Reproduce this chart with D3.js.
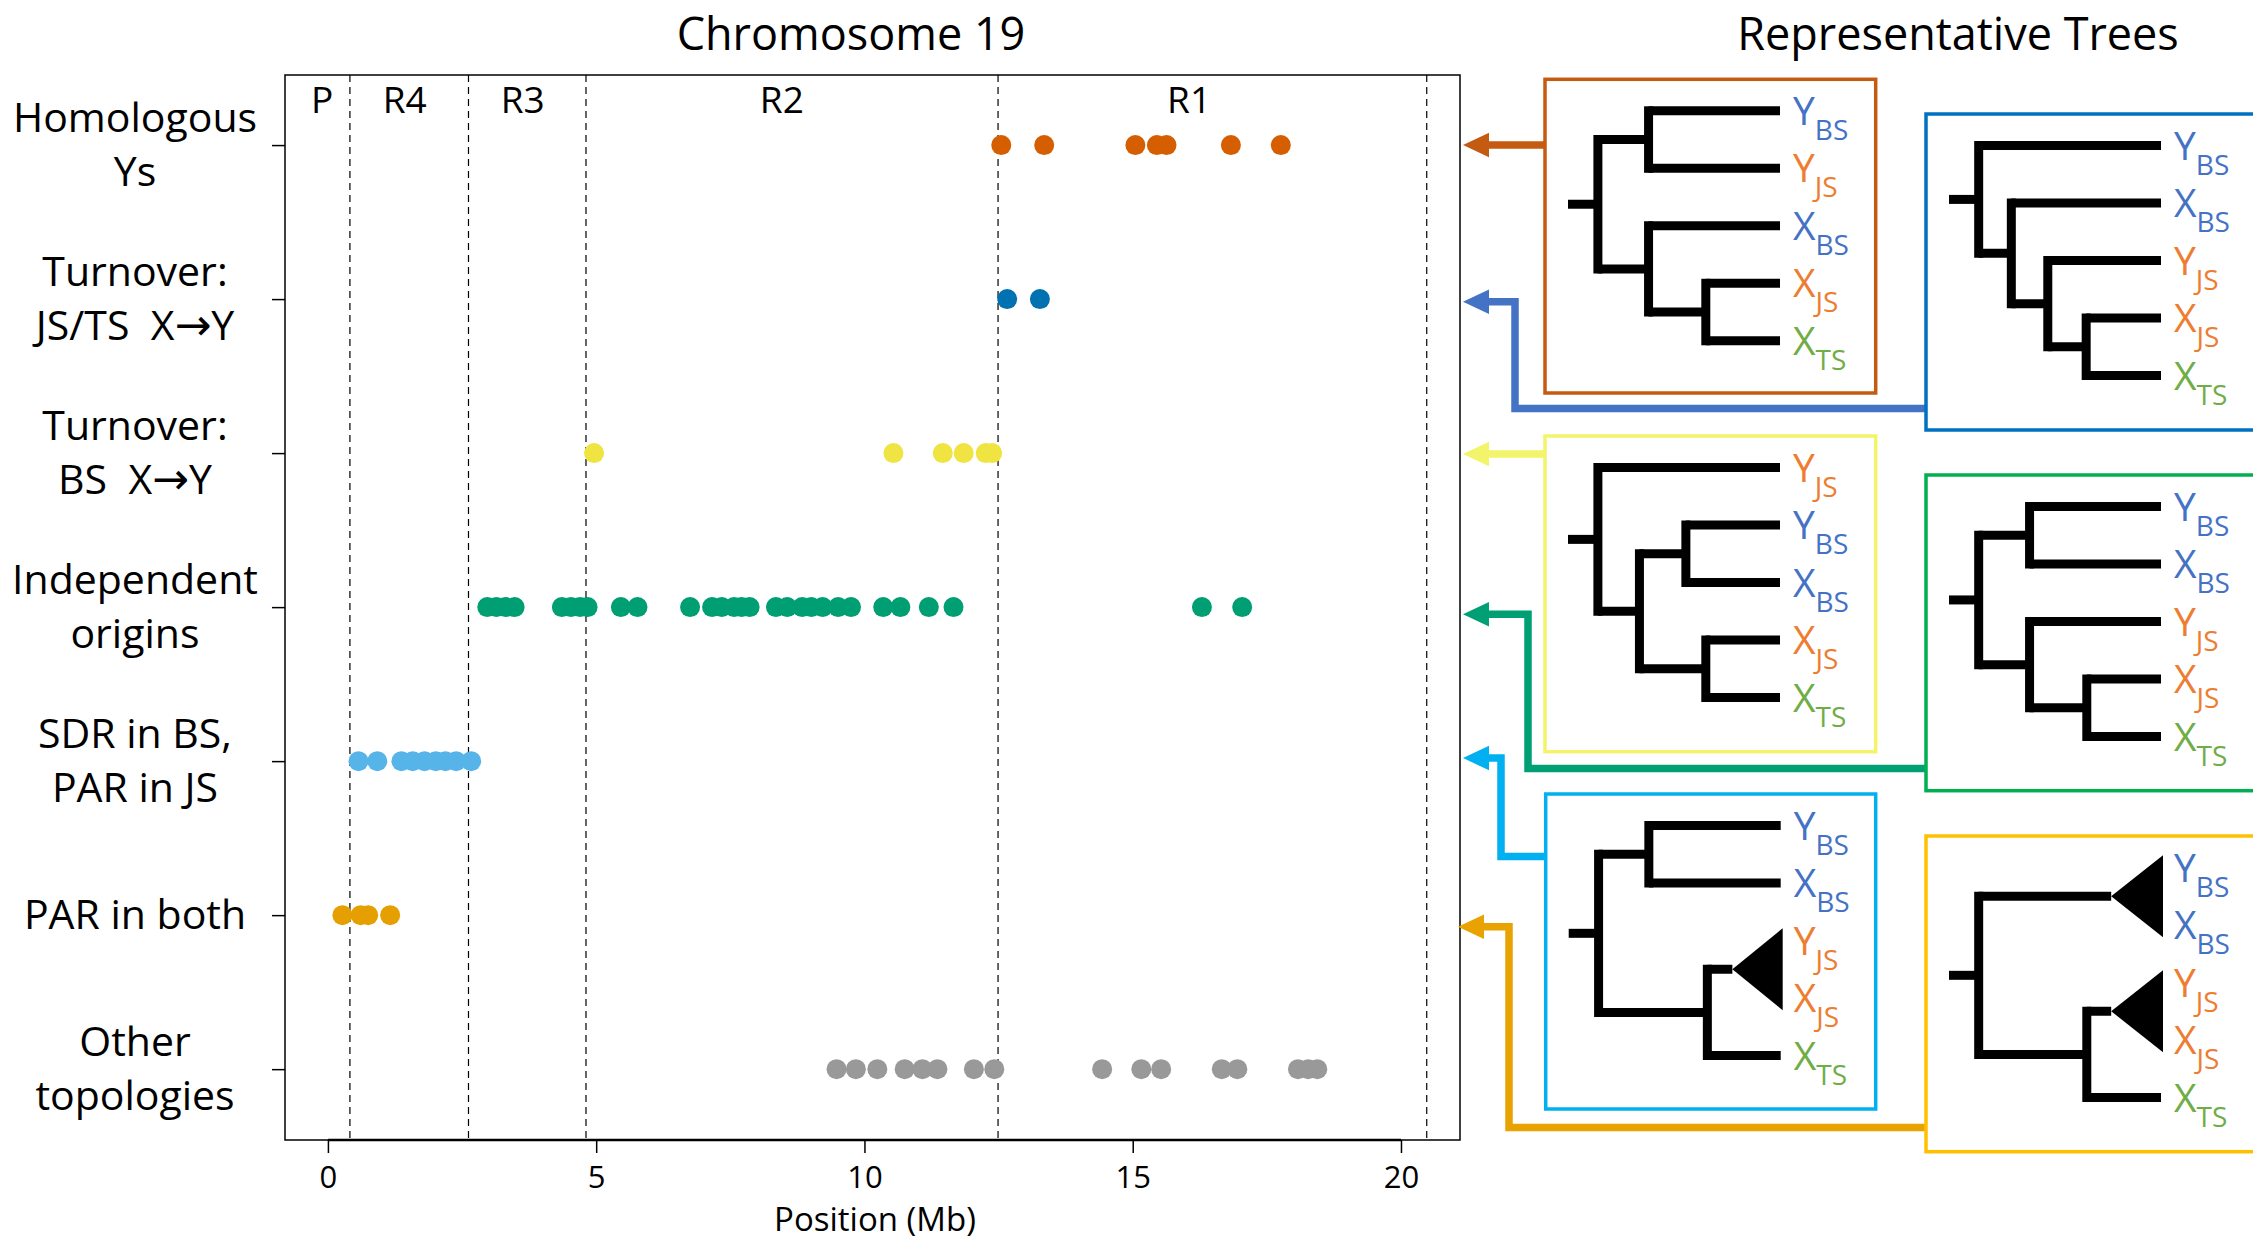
<!DOCTYPE html>
<html><head><meta charset="utf-8">
<script src="https://cdn.jsdelivr.net/npm/d3@7/dist/d3.min.js"></script>
<style>body{margin:0;background:#fff}text{font-family:"Open Sans",sans-serif;white-space:pre}</style>
</head><body><svg id="c" width="2253" height="1243"></svg>
<script>
// ---------- data ----------
const categories = ["Homologous\nYs","Turnover:\nJS/TS  X\u2192Y","Turnover:\nBS  X\u2192Y","Independent\norigins","SDR in BS,\nPAR in JS","PAR in both","Other\ntopologies"];
const rowColors = ["#D55E00","#0072B2","#F0E442","#009E73","#56B4E9","#E69F00","#999999"];
const homologousYs = [12.55,13.35,15.05,15.45,15.63,16.83,17.76];
const turnoverJSTS = [12.66,13.27];
const turnoverBS = [4.96,10.54,11.46,11.85,12.26,12.38];
const independentOrigins = [2.97,3.14,3.31,3.48,4.36,4.53,4.70,4.84,5.46,5.77,6.75,7.16,7.34,7.57,7.71,7.86,8.35,8.56,8.84,9.01,9.22,9.51,9.75,10.35,10.67,11.20,11.66,16.29,17.04];
const sdrBSparJS = [0.57,0.92,1.37,1.58,1.80,2.01,2.19,2.39,2.67];
const parBoth = [0.27,0.61,0.75,1.16];
const otherTopologies = [9.48,9.84,10.24,10.75,11.08,11.36,12.04,12.42,14.43,15.16,15.53,16.66,16.95,18.08,18.27,18.44];
const seriesValues = [homologousYs,turnoverJSTS,turnoverBS,independentOrigins,sdrBSparJS,parBoth,otherTopologies];
const xTicks = [0,5,10,15,20];
const regionBounds = [0.41,2.62,4.81,12.49,20.48];
const regionLabels = ["P","R4","R3","R2","R1"];
const regionLabelPos = [-0.11,1.43,3.63,8.46,16.05];
// trees (d = relative node depth, tri = collapsed clade)
const treeHomologous = {d:.141,c:[{d:.38,c:["YBS","YJS"]},{d:.38,c:["XBS",{d:.65,c:["XJS","XTS"]}]}]};
const treeTurnoverJSTS = {d:.14,c:["YBS",{d:.294,c:["XBS",{d:.466,c:["YJS",{d:.647,c:["XJS","XTS"]}]}]}]};
const treeTurnoverBS = {d:.141,c:["YJS",{d:.337,c:[{d:.556,c:["YBS","XBS"]},{d:.65,c:["XJS","XTS"]}]}]};
const treeIndependent = {d:.14,c:[{d:.38,c:["YBS","XBS"]},{d:.38,c:["YJS",{d:.65,c:["XJS","XTS"]}]}]};
const treeSDR = {d:.141,c:[{d:.378,c:["YBS","XBS"]},{d:.654,c:[{tri:["YJS","XJS"],d:.772},"XTS"]}]};
const treePAR = {d:.14,c:[{tri:["YBS","XBS"],d:.765},{d:.65,c:[{tri:["YJS","XJS"],d:.765},"XTS"]}]};
const speciesColors = {BS:"#4472C4",JS:"#ED7D31",TS:"#70AD47"};

// ---------- chart ----------
const svg = d3.select("#c");
const L=285,R=1460,T=75,B=1140;
const x = d3.scaleLinear().domain([-0.8,21.1]).range([L,R]);
const y = d3.scaleLinear().domain([0.545,7.46]).range([T,B]);

svg.append("rect").attr("x",L).attr("y",T).attr("width",R-L).attr("height",B-T)
  .attr("fill","none").attr("stroke","#000").attr("stroke-width",1.5);

svg.append("g").selectAll("line").data(regionBounds).join("line")
  .attr("x1",d=>x(d)).attr("x2",d=>x(d)).attr("y1",T).attr("y2",B)
  .attr("stroke","#000").attr("stroke-width",1.2).attr("stroke-dasharray","7,5");

svg.append("g").selectAll("text").data(regionLabels).join("text")
  .attr("x",(d,i)=>x(regionLabelPos[i])).attr("y",113).attr("text-anchor","middle")
  .attr("font-size",37).text(d=>d);

seriesValues.forEach((vals,i)=>{
  svg.append("g").selectAll("circle").data(vals).join("circle")
    .attr("cx",d=>x(d)).attr("cy",y(i+1)).attr("r",10).attr("fill",rowColors[i]);
});

const xa = svg.append("g").attr("transform",`translate(0,${B})`)
  .call(d3.axisBottom(x).tickValues(xTicks).tickSize(13).tickPadding(13).tickFormat(d3.format("d")));
xa.select(".domain").remove();
xa.selectAll("line").attr("stroke-width",1.5);
xa.selectAll("text").attr("font-size",31).attr("font-family","Open Sans");
svg.append("line").attr("x1",x(0)).attr("x2",x(20)).attr("y1",B).attr("y2",B).attr("stroke","#000").attr("stroke-width",2.5);

const ya = svg.append("g").attr("transform",`translate(${L},0)`)
  .call(d3.axisLeft(y).tickValues(d3.range(1,8)).tickSize(13).tickFormat(""));
ya.select(".domain").remove();
ya.selectAll("line").attr("stroke-width",1.5);

categories.forEach((c,i)=>{
  const lines=c.split("\n");
  const t=svg.append("text").attr("text-anchor","middle").attr("font-size",41);
  lines.forEach((ln,j)=>{
    const off = lines.length===1?0:(j===0?-27:27);
    const ts=t.append("tspan").attr("x",135).attr("y",y(i+1)+off+14);
    const parts=ln.split("\u2192");
    ts.append("tspan").text(parts[0]);
    if(parts.length>1){
      ts.append("tspan").attr("font-family","DejaVu Sans").attr("font-size",44).text("\u2192");
      ts.append("tspan").text(parts[1]);
    }
  });
});

svg.append("text").attr("x",851).attr("y",50).attr("text-anchor","middle").attr("font-size",45).text("Chromosome 19");
svg.append("text").attr("x",1958).attr("y",50).attr("text-anchor","middle").attr("font-size",45).text("Representative Trees");
svg.append("text").attr("x",875).attr("y",1231).attr("text-anchor","middle").attr("font-size",33).text("Position (Mb)");

// ---------- connectors ----------
const connectors = [
  {c:"#C55A11",p:[[1545,145],[1488,145]],tip:1463},
  {c:"#4472C4",p:[[1926,408.5],[1515,408.5],[1515,301.7],[1488,301.7]],tip:1463},
  {c:"#F4F46A",p:[[1545,454],[1488,454]],tip:1463},
  {c:"#00A074",p:[[1926,768.5],[1528,768.5],[1528,614.3],[1488,614.3]],tip:1463},
  {c:"#00B0F0",p:[[1545,856.5],[1501,856.5],[1501,758],[1488,758]],tip:1463},
  {c:"#E8A202",p:[[1926,1127.5],[1509,1127.5],[1509,926.7],[1483,926.7]],tip:1458}
];
connectors.forEach(k=>{
  svg.append("path").attr("d",d3.line()(k.p)).attr("fill","none").attr("stroke",k.c).attr("stroke-width",7.5);
  const e=k.p[k.p.length-1];
  svg.append("path").attr("d",`M${k.tip},${e[1]}L${e[0]+1},${e[1]-12.3}L${e[0]+1},${e[1]+12.3}Z`).attr("fill",k.c);
});

// ---------- tree panels ----------
const panels = [
  {t:treeHomologous,x:1545,y:79.3,w:330.7,h:313.7,c:"#C55A11"},
  {t:treeTurnoverJSTS,x:1926,y:114,w:400,h:316,c:"#0070C0"},
  {t:treeTurnoverBS,x:1545,y:436,w:330.7,h:315.7,c:"#F4F46A"},
  {t:treeIndependent,x:1926,y:475,w:400,h:315.7,c:"#00B050"},
  {t:treeSDR,x:1545.7,y:794,w:330,h:315,c:"#00B0F0"},
  {t:treePAR,x:1926,y:836,w:400,h:315.7,c:"#FFC000"}
];
panels.forEach(p=>{
  svg.append("rect").attr("x",p.x).attr("y",p.y).attr("width",p.w).attr("height",p.h)
    .attr("fill","none").attr("stroke",p.c).attr("stroke-width",3.5);
  drawTree(svg.append("g"),p.t,p.x,p.y);
});

function drawTree(g,tree,x0,top){
  const stubX=x0+23, span=212, tipX=x0+235, lw=9;
  let li=0;
  const X=d=>stubX+d*span;
  const leafY=()=>top+31.5+(li++)*57.5;
  function lay(n){
    if(typeof n==="string") return {leaf:n,y:leafY()};
    if(n.tri){const ls=n.tri.map(l=>({leaf:l,y:leafY()}));return {tri:ls,d:n.d,y:d3.mean(ls,o=>o.y)};}
    const kids=n.c.map(lay);return {d:n.d,kids,y:d3.mean(kids,k=>k.y)};
  }
  const root=lay(tree);
  const label=(name,yy)=>{
    const t=g.append("text").attr("x",tipX+13).attr("y",yy+14);
    t.append("tspan").attr("font-size",39).attr("fill",speciesColors[name.slice(1)]).text(name[0]);
    t.append("tspan").attr("font-size",28).attr("dy",15).attr("fill",speciesColors[name.slice(1)]).text(name.slice(1));
  };
  const hline=(x1,x2,yy)=>g.append("line").attr("x1",x1).attr("x2",x2).attr("y1",yy).attr("y2",yy).attr("stroke","#000").attr("stroke-width",lw);
  function draw(n){
    if(n.leaf){label(n.leaf,n.y);return;}
    if(n.tri){
      g.append("path").attr("d",`M${X(n.d)},${n.y}L${tipX+2},${n.y-41}L${tipX+2},${n.y+41}Z`).attr("fill","#000");
      n.tri.forEach(l=>label(l.leaf,l.y));return;
    }
    const ys=n.kids.map(k=>k.y);
    g.append("line").attr("x1",X(n.d)).attr("x2",X(n.d)).attr("y1",d3.min(ys)).attr("y2",d3.max(ys))
      .attr("stroke","#000").attr("stroke-width",lw).attr("stroke-linecap","square");
    n.kids.forEach(k=>{
      hline(X(n.d),k.leaf?tipX:X(k.d),k.y);
      draw(k);
    });
  }
  hline(stubX,X(root.d),root.y);
  draw(root);
}
</script></body></html>
